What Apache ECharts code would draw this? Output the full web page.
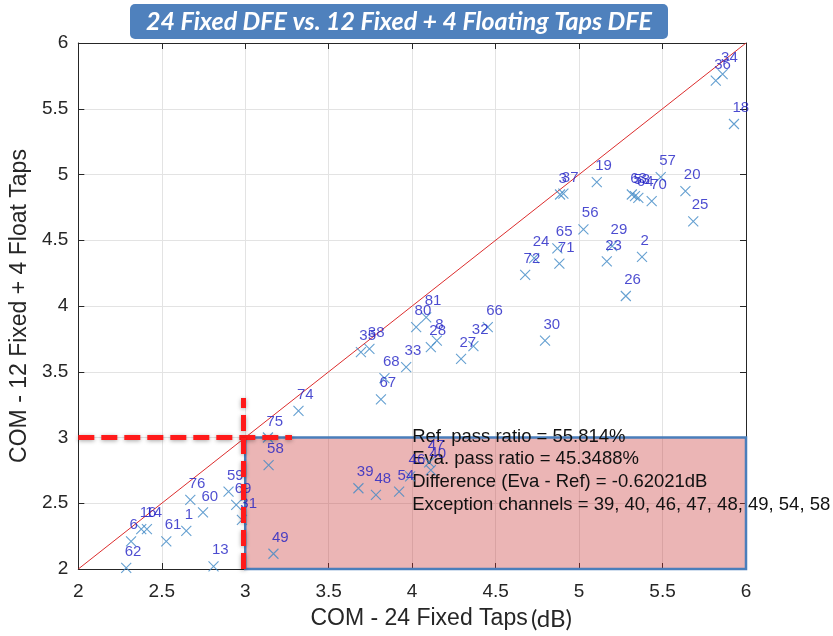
<!DOCTYPE html>
<html>
<head>
<meta charset="utf-8">
<script src="https://cdn.jsdelivr.net/npm/echarts@6/dist/echarts.min.js"></script>
<style>
  html, body { margin: 0; padding: 0; background: #ffffff; }
  #chart { width: 833px; height: 636px; }
</style>
</head>
<body>
<div id="chart"></div>
<script>
// Channel numbers and their COM values (dB) for the two DFE configurations
const channelIds = [
  1, 2, 3, 6, 8, 13, 14, 16, 18, 19, 20, 23, 24, 25, 26, 27, 28, 29, 30, 31,
  32, 33, 34, 35, 36, 37, 38, 39, 40, 46, 47, 48, 49, 53, 54, 56, 57, 58, 59, 60,
  61, 62, 63, 64, 65, 66, 67, 68, 69, 70, 71, 72, 74, 75, 76, 80, 81
];
// COM with 24 fixed DFE taps (reference)
const com24Fixed = [
  2.647, 5.377, 4.886, 2.316, 4.148, 2.810, 2.411, 2.377, 5.928, 5.106, 5.637, 5.166, 4.731, 5.684, 5.280, 4.293, 4.112, 5.198, 4.796, 2.980,
  4.367, 3.964, 5.860, 3.693, 5.819, 4.906, 3.744, 3.678, 4.112, 3.988, 4.102, 3.783, 3.169, 5.335, 3.922, 5.026, 5.489, 3.140, 2.900, 2.747,
  2.527, 2.287, 5.316, 5.355, 4.870, 4.453, 3.813, 3.834, 2.946, 5.435, 4.882, 4.677, 3.319, 3.136, 2.671, 4.024, 4.084
];
// COM with 12 fixed + 4 floating DFE taps (evaluated)
const com12Fixed4Float = [
  2.290, 4.373, 4.848, 2.210, 3.737, 2.020, 2.303, 2.303, 5.384, 4.942, 4.873, 4.339, 4.364, 4.644, 4.076, 3.598, 3.687, 4.455, 3.737, 2.373,
  3.695, 3.536, 5.763, 3.649, 5.714, 4.854, 3.674, 2.614, 2.752, 2.705, 2.811, 2.563, 2.116, 4.836, 2.589, 4.583, 4.980, 2.790, 2.589, 2.430,
  2.210, 2.008, 4.848, 4.823, 4.439, 3.839, 3.290, 3.452, 2.487, 4.798, 4.323, 4.237, 3.202, 3.000, 2.525, 3.839, 3.914
];

// Axis range and tick spacing (dB)
const axisMin = 2;
const axisMax = 6;
const tickStep = 0.5;

// Pass limit used for both configurations (dB)
const passLimit = 3;

// Summary statistics
const summaryLines = [
  'Ref. pass ratio = 55.814%',
  'Eva. pass ratio = 45.3488%',
  'Difference (Eva - Ref) = -0.62021dB',
  'Exception channels = 39, 40, 46, 47, 48, 49, 54, 58'
];

const titleText = '24 Fixed DFE vs. 12 Fixed + 4 Floating Taps DFE';

const points = channelIds.map((id, i) => [com24Fixed[i], com12Fixed4Float[i], String(id)]);

const AXIS_COLOR = '#262626';
const GRID_COLOR = '#e3e3e3';
const FONT = 'Liberation Sans, Arial, Helvetica, sans-serif';

const chart = echarts.init(document.getElementById('chart'), null, { renderer: 'canvas' });

const baseAxis = {
  min: axisMin,
  max: axisMax,
  interval: tickStep,
  axisLine: { show: true, onZero: false, lineStyle: { color: AXIS_COLOR, width: 1 } },
  axisTick: { show: true, inside: true, length: 6, lineStyle: { color: AXIS_COLOR } }
};

const option = {
  backgroundColor: '#ffffff',
  animation: false,
  grid: { left: 78, right: 87, top: 43, bottom: 65, containLabel: false },
  xAxis: [
    Object.assign({}, baseAxis, {
      type: 'value',
      position: 'bottom',
      splitLine: { show: true, lineStyle: { color: GRID_COLOR, width: 1 } },
      axisLabel: { color: AXIS_COLOR, fontSize: 19, fontFamily: FONT, margin: 13 },
      // the spacer keeps the main caption centred under the axis, with the unit appended
      name: '{s|}{a|COM - 24 Fixed Taps} {b|(dB)}',
      nameLocation: 'middle',
      nameGap: 38,
      nameTextStyle: {
        rich: {
          s: { width: 58 },
          a: { fontSize: 23, color: AXIS_COLOR, fontFamily: FONT },
          b: { fontSize: 24, color: AXIS_COLOR, fontFamily: 'Lato, Open Sans, sans-serif' }
        }
      }
    }),
    Object.assign({}, baseAxis, {
      type: 'value',
      position: 'top',
      splitLine: { show: false },
      axisLabel: { show: false }
    })
  ],
  yAxis: [
    Object.assign({}, baseAxis, {
      type: 'value',
      position: 'left',
      splitLine: { show: true, lineStyle: { color: GRID_COLOR, width: 1 } },
      axisLabel: { color: AXIS_COLOR, fontSize: 19, fontFamily: FONT, margin: 10 },
      name: 'COM - 12 Fixed + 4 Float Taps',
      nameLocation: 'middle',
      nameRotate: 90,
      nameGap: 43,
      nameTextStyle: { fontSize: 23, color: AXIS_COLOR, fontFamily: FONT }
    }),
    Object.assign({}, baseAxis, {
      type: 'value',
      position: 'right',
      splitLine: { show: false },
      axisLabel: { show: false }
    })
  ],
  series: [
    {
      // y = x reference diagonal
      name: 'diagonal',
      type: 'line',
      xAxisIndex: 0,
      yAxisIndex: 0,
      data: [[axisMin, axisMin], [axisMax, axisMax]],
      showSymbol: false,
      symbol: 'none',
      silent: true,
      z: 1,
      lineStyle: { color: '#dc2d2d', width: 1 }
    },
    {
      name: 'channels',
      type: 'scatter',
      xAxisIndex: 0,
      yAxisIndex: 0,
      data: points,
      symbol: 'path://M0,0L10,10M10,0L0,10',
      symbolSize: 10,
      z: 3,
      itemStyle: { color: 'rgba(0,0,0,0)', borderColor: '#3f88c6', borderWidth: 1.1 },
      label: {
        show: true,
        formatter: p => p.data[2],
        position: [4, -18],
        color: '#1e1ec4',
        fontSize: 15,
        fontFamily: FONT
      },
      emphasis: { disabled: true }
    },
    {
      // Shaded region: reference passes, evaluated fails
      name: 'exception region',
      type: 'scatter',
      xAxisIndex: 0,
      yAxisIndex: 0,
      data: [],
      z: 6,
      silent: true,
      markArea: {
        silent: true,
        itemStyle: {
          color: 'rgba(200, 50, 50, 0.36)',
          borderColor: '#4a7ebb',
          borderWidth: 2.5
        },
        data: [[{ coord: [passLimit, axisMin] }, { coord: [axisMax, passLimit] }]]
      }
    },
    {
      // Pass-limit guides
      name: 'limits',
      type: 'scatter',
      xAxisIndex: 0,
      yAxisIndex: 0,
      data: [],
      z: 7,
      silent: true,
      markLine: {
        silent: true,
        symbol: ['none', 'none'],
        label: { show: false },
        lineStyle: {
          color: '#ff1a1a',
          width: 5,
          type: [16, 7],
          shadowBlur: 4,
          shadowColor: 'rgba(0,0,0,0.35)',
          shadowOffsetY: 1
        },
        data: [
          [{ coord: [axisMin, passLimit] }, { coord: [3.28, passLimit] }],
          [{ coord: [2.99, axisMin] }, { coord: [2.99, 3.3] }]
        ]
      }
    }
  ]
};

chart.setOption(option);

// Summary text, placed in data space just under the shaded overlay
const textOrigin = chart.convertToPixel({ xAxisIndex: 0, yAxisIndex: 0 }, [4.0, 3.0]);
const lineHeight = 22.7;
const summaryGraphics = summaryLines.map((line, i) => ({
  type: 'text',
  z: 1,
  silent: true,
  style: {
    text: line,
    x: textOrigin[0],
    y: textOrigin[1] - 1 + i * lineHeight,
    fill: '#111111',
    font: '18.5px ' + FONT,
    textVerticalAlign: 'middle'
  }
}));

chart.setOption({
  graphic: [
    {
      type: 'group',
      left: 130,
      top: 4,
      z: 100,
      children: [
        {
          type: 'rect',
          shape: { x: 0, y: 0, width: 538, height: 35, r: 5 },
          style: { fill: '#4f81bd' }
        },
        {
          type: 'text',
          style: {
            text: titleText,
            x: 269,
            y: 18,
            fill: '#ffffff',
            font: 'italic bold 25px Lato, "Open Sans", sans-serif',
            textAlign: 'center',
            textVerticalAlign: 'middle'
          }
        }
      ]
    }
  ].concat(summaryGraphics)
});
</script>
</body>
</html>
